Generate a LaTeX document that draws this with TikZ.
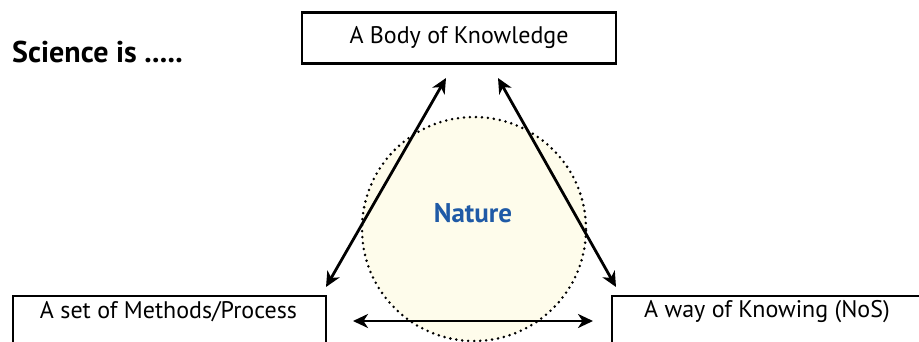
\documentclass[tikz,border=0pt]{standalone}
\usepackage{fontspec}
\setmainfont{PT Sans}
\usetikzlibrary{arrows.meta}
\definecolor{cream}{HTML}{FEFCEB}
\definecolor{natblue}{HTML}{1F5AA6}
\tikzset{
  boxtxt/.style={font=\fontsize{24}{28}\selectfont},
  frame/.style={draw, line width=2.2pt, inner sep=0pt},
  arr/.style={line width=2.8pt, {Stealth[length=15pt,width=14pt,inset=4.5pt]}-{Stealth[length=15pt,width=14pt,inset=4.5pt]}}
}
\begin{document}
\begin{tikzpicture}[x=1pt,y=-1pt]
\useasboundingbox (0,0) rectangle (919,341);
\node[draw, line width=2.8pt, line cap=round, dash pattern=on 0pt off 6pt, fill=cream, circle, minimum size=224pt, inner sep=0pt] (nat) at (474,229) {};
\node[font=\bfseries\fontsize{27}{31}\selectfont, text=natblue] (nt) at (473,213) {Nature};
\node[anchor=west, font=\bfseries\fontsize{30}{34}\selectfont, inner sep=0pt] (sci) at (12,52) {Science is .....};
\node[frame, boxtxt, minimum width=314pt, minimum height=51pt] (bok) at (459,38) {A Body of Knowledge};
\node[frame, minimum width=313pt, minimum height=60pt, anchor=north west] (met) at (12,295) {};
\node[boxtxt] (mett) at (168.5,312) {A set of Methods/Process};
\node[frame, minimum width=320pt, minimum height=60pt, anchor=north west] (way) at (611,295) {};
\node[boxtxt] (wayt) at (767,312) {A way of Knowing (NoS)};
\coordinate (a1) at (446,78);
\coordinate (a2) at (326,287);
\coordinate (b1) at (498,78);
\coordinate (b2) at (616,287);
\coordinate (c1) at (353,321);
\coordinate (c2) at (593,321);
\draw[arr] (a1) -- (a2);
\draw[arr] (b1) -- (b2);
\draw[arr] (c1) -- (c2);
\end{tikzpicture}
\end{document}
